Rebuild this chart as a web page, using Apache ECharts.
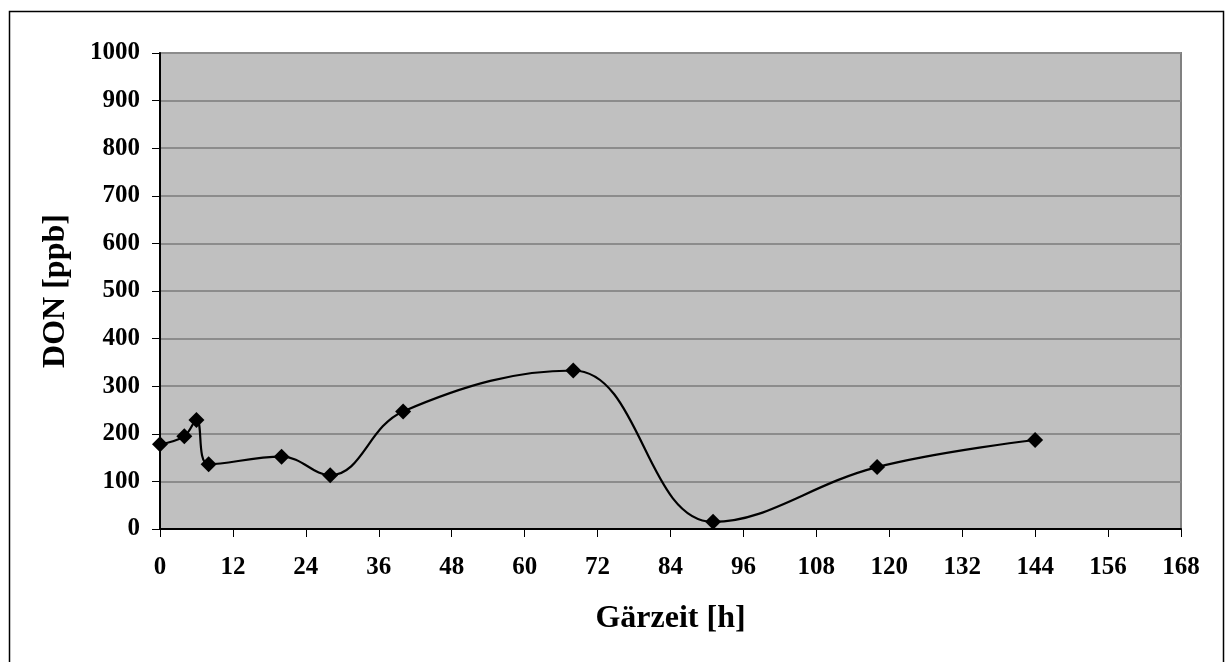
<!DOCTYPE html>
<html>
<head>
<meta charset="utf-8">
<script src="https://cdn.jsdelivr.net/npm/echarts@6/dist/echarts.min.js"></script>
<style>html,body{margin:0;padding:0;background:#fff;}#c{width:1226px;height:662px;}</style>
</head>
<body>
<div id="c"></div>
<script>
const hours = [0, 4, 6, 8, 20, 28, 40, 68, 91, 118, 144];
const don = [178, 195, 229, 136, 152, 113, 247, 333, 15, 130, 187];
const xTitle = 'Gärzeit [h]';
const yTitle = 'DON [ppb]';

const chart = echarts.init(document.getElementById('c'), null, {renderer: 'canvas'});
const font = 'Liberation Serif, Times New Roman, serif';
chart.setOption({
  animation: false,
  backgroundColor: '#fff',
  graphic: [{
    type: 'rect', left: 7, top: 9, z: -1,
    shape: {x: 0, y: 0, width: 1214, height: 700},
    style: {fill: 'none', stroke: '#000', lineWidth: 1.5}
  }],
  grid: {left: 160, right: 45, top: 53, bottom: 133, show: true,
    backgroundColor: '#c0c0c0', borderColor: '#808080', borderWidth: 2},
  xAxis: {
    type: 'value', min: 0, max: 168, interval: 12,
    name: xTitle, nameLocation: 'middle', nameGap: 74,
    nameTextStyle: {fontFamily: font, fontWeight: 'bold', fontSize: 32, color: '#000'},
    axisLine: {lineStyle: {color: '#000', width: 2}},
    axisTick: {show: true, length: 8, lineStyle: {color: '#000', width: 1}},
    axisLabel: {fontFamily: font, fontWeight: 'bold', fontSize: 25, color: '#000', margin: 26,
      formatter: v => String(v)},
    splitLine: {show: false}
  },
  yAxis: {
    type: 'value', min: 0, max: 1000, interval: 100,
    name: yTitle, nameLocation: 'middle', nameGap: 88, nameRotate: 90,
    nameTextStyle: {fontFamily: font, fontWeight: 'bold', fontSize: 32, color: '#000'},
    axisLine: {show: true, lineStyle: {color: '#000', width: 2}},
    axisTick: {show: true, length: 8, lineStyle: {color: '#000', width: 1}},
    axisLabel: {fontFamily: font, fontWeight: 'bold', fontSize: 25, color: '#000', margin: 20,
      formatter: v => String(v)},
    splitLine: {show: true, lineStyle: {color: '#8c8c8c', width: 2}}
  },
  series: [{
    type: 'line', data: hours.map((h, i) => [h, don[i]]),
    smooth: 0.4, symbol: 'diamond', symbolSize: 16,
    itemStyle: {color: '#000'},
    lineStyle: {color: '#000', width: 2.2}
  }]
});
</script>
</body>
</html>
